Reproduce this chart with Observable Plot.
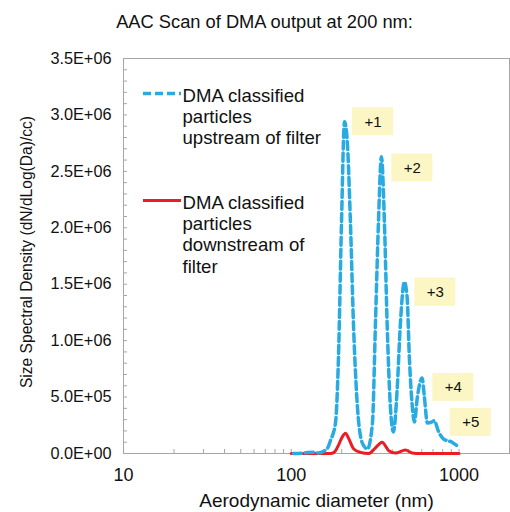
<!DOCTYPE html>
<html><head><meta charset="utf-8">
<script src="https://cdn.jsdelivr.net/npm/d3@7"></script>
<script src="https://cdn.jsdelivr.net/npm/@observablehq/plot@0.6"></script>
<style>body{margin:0;background:#fff}</style>
</head><body><div id="chart"></div>
<script>
// ---- data ----
const upstreamDiameter = [103, 120, 135, 145, 156, 165, 171.4, 183.5, 191.2, 199.3, 207.7, 215.4, 225.4, 234.9, 248.1, 265.7, 284.6, 304.8, 317.6, 330.9, 344.8, 359.4, 372.9, 390.1, 406.4, 427.6, 447.3, 472.5, 490.3, 506, 525.1, 542, 564.8, 602.5, 621.8, 647.9, 690.8, 712.8, 753, 806.4, 908.5, 1000];
const upstreamDensity = [0, 5e3, 1.2e4, 5e3, 2e4, 5e4, 1.15e5, 2.7e5, 8.5e5, 2.04e6, 2.94e6, 2.78e6, 2.04e6, 1.15e6, 4.1e5, 9e4, 4e4, 2.7e5, 1.15e6, 2.04e6, 2.63e6, 2.04e6, 1.15e6, 4.1e5, 1.9e5, 5.6e5, 1.15e6, 1.52e6, 1.39e6, 8.5e5, 4.4e5, 2.8e5, 5.0e5, 6.7e5, 5.0e5, 2.7e5, 2.8e5, 2.9e5, 2.0e5, 1.3e5, 1.0e5, 5.5e4];
const downstreamDiameter = [100, 171, 180, 187.8, 201.2, 210.5, 220.3, 235.9, 258.5, 289.6, 317.6, 348.1, 381.1, 417.7, 479, 525.1, 588, 1000];
const downstreamDensity = [0, 0, 1e4, 5e4, 1.45e5, 1.8e5, 1.3e5, 4e4, 1e4, 0, 5e4, 1.0e5, 2.5e4, 5e3, 3e4, 5e3, 0, 0];
const peakLabels = ["+1", "+2", "+3", "+4", "+5"];
const peakLabelDiameter = [307, 527, 723, 925, 1175];
const peakLabelDensity = [2.94e6, 2.53e6, 1.43e6, 5.86e5, 2.75e5];
const seriesNames = ["DMA classified\nparticles\nupstream of filter", "DMA classified\nparticles\ndownstream of\nfilter"];
const yTicks = [0, 5e5, 1e6, 1.5e6, 2e6, 2.5e6, 3e6, 3.5e6];
const yMinorTicks = [0, 1e5, 2e5, 3e5, 4e5, 5e5, 6e5, 7e5, 8e5, 9e5, 1e6, 1.1e6, 1.2e6, 1.3e6, 1.4e6, 1.5e6, 1.6e6, 1.7e6, 1.8e6, 1.9e6, 2e6, 2.1e6, 2.2e6, 2.3e6, 2.4e6, 2.5e6, 2.6e6, 2.7e6, 2.8e6, 2.9e6, 3e6, 3.1e6, 3.2e6, 3.3e6, 3.4e6, 3.5e6];
const xTickLabels = [10, 100, 1000];
const xMinorTicks = [20, 30, 40, 50, 60, 70, 80, 90, 100, 200, 300, 400, 500, 600, 700, 800, 900, 1000];
const titleText = "AAC Scan of DMA output at 200 nm:";
const xTitle = "Aerodynamic diameter (nm)";
const yTitle = "Size Spectral Density (dN/dLog(Da)/cc)";

// ---- tables ----
const upstream = upstreamDiameter.map((d, i) => ({d, v: upstreamDensity[i]}));
const downstream = downstreamDiameter.map((d, i) => ({d, v: downstreamDensity[i]}));
const peaks = peakLabels.map((t, i) => ({t, d: peakLabelDiameter[i], v: peakLabelDensity[i]}));

const BLUE = "#29abe2", RED = "#ed1c24", AXIS = "#a6a6a6", INK = "#111";
const fmtE = v => {
  if (v === 0) return "0.0E+00";
  const e = Math.floor(Math.log10(v) + 1e-9);
  const m = v / Math.pow(10, e);
  return m.toFixed(1) + "E+" + String(e).padStart(2, "0");
};

const chart = Plot.plot({
  width: 510, height: 512,
  marginLeft: 123, marginRight: 1, marginTop: 58, marginBottom: 59,
  style: {fontFamily: "'Liberation Sans', Arial, sans-serif", fontSize: "14px", background: "#fff", color: INK},
  x: {type: "log", domain: [10, 2000]},
  y: {domain: [0, 3.5e6]},
  marks: [
    Plot.frame({stroke: AXIS}),
    Plot.axisY(yMinorTicks, {tickSize: 4, insetLeft: 4, stroke: AXIS, fill: "none", label: null}),
    Plot.text(yTicks, {y: d => d, text: d => fmtE(d), frameAnchor: "left", dx: -12, textAnchor: "end", fontSize: 16.3, fill: INK}),
    Plot.axisX(xMinorTicks, {tickSize: 4, insetBottom: 4, stroke: AXIS, fill: "none", label: null}),
    Plot.axisX(xTickLabels, {tickSize: 0, tickPadding: 15, tickFormat: d => String(d), fontSize: 18, fill: INK, label: null}),
    Plot.rect(peaks, {x1: "d", x2: "d", y1: "v", y2: "v", insetLeft: -20.5, insetRight: -20.5, insetTop: -14, insetBottom: -14, fill: "#fbf6c3"}),
    Plot.text(peaks, {x: "d", y: "v", text: "t", fontSize: 15, fill: INK}),
    Plot.line(downstream, {x: "d", y: "v", stroke: RED, strokeWidth: 3, curve: "monotone-x"}),
    Plot.line(upstream, {x: "d", y: "v", stroke: BLUE, strokeWidth: 3.5, strokeDasharray: "8,4", curve: "monotone-x"}),
    Plot.text([titleText], {frameAnchor: "top-left", dx: 141, dy: -44, lineAnchor: "top", textAnchor: "middle", fontSize: 18.3, fill: INK}),
    Plot.text([xTitle], {frameAnchor: "bottom", dy: 40, lineAnchor: "top", fontSize: 19, fill: INK}),
    Plot.text([yTitle], {frameAnchor: "left", dx: -97, dy: -4, rotate: -90, textAnchor: "middle", lineAnchor: "middle", fontSize: 15.6, fill: INK}),
    Plot.text([seriesNames[0]], {frameAnchor: "top-left", dx: 59, dy: 28.5, lineAnchor: "top", textAnchor: "start", fontSize: 18.6, lineHeight: 1.14, fill: INK}),
    Plot.text([seriesNames[1]], {frameAnchor: "top-left", dx: 59, dy: 135.5, lineAnchor: "top", textAnchor: "start", fontSize: 18.6, lineHeight: 1.14, fill: INK})
  ]
});

// legend swatches (not data marks)
const sel = d3.select(chart);
sel.append("line").attr("x1", 143).attr("x2", 181).attr("y1", 93.5).attr("y2", 93.5)
  .attr("stroke", BLUE).attr("stroke-width", 3.5).attr("stroke-dasharray", "8,4");
sel.append("line").attr("x1", 143).attr("x2", 181).attr("y1", 200.5).attr("y2", 200.5)
  .attr("stroke", RED).attr("stroke-width", 3);

document.getElementById("chart").append(chart);
</script>
</body></html>
